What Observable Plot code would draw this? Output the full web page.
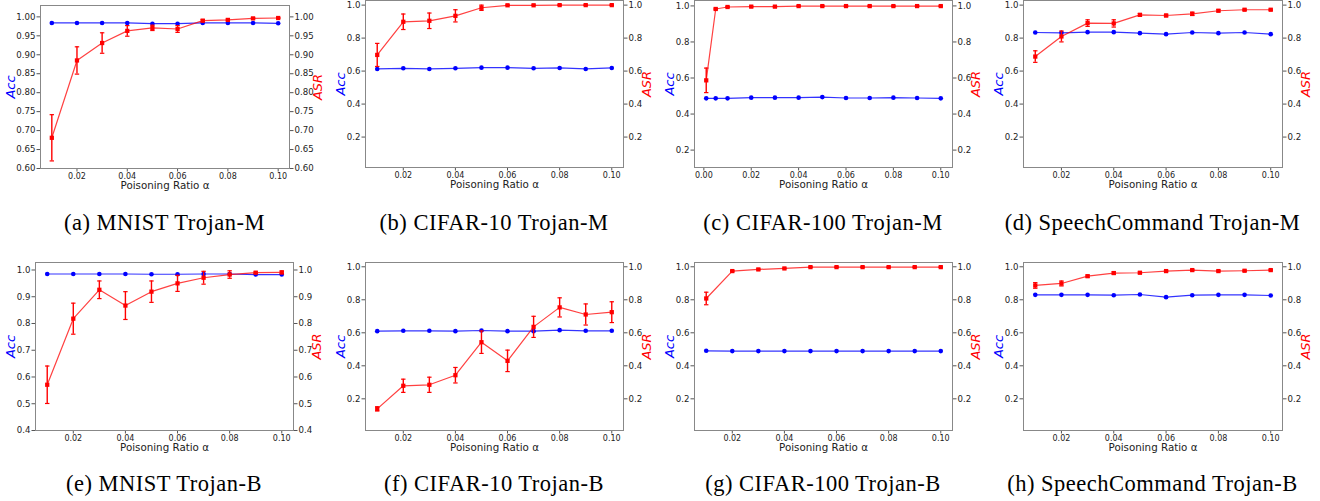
<!DOCTYPE html>
<html>
<head>
<meta charset="utf-8">
<script src="https://cdn.jsdelivr.net/npm/d3@7"></script>
<script src="https://cdn.jsdelivr.net/npm/@observablehq/plot@0.6"></script>
<style>
  html, body { margin: 0; padding: 0; background: #fff; overflow: hidden; }
  #fig { position: relative; width: 1320px; height: 501px; }
  .pan { position: absolute; }
  .pan svg { max-width: none !important; }
  .cap { position: absolute; font-family: "Liberation Serif", "Times New Roman", serif; font-size: 22.5px; letter-spacing: 0.5px; line-height: 1; text-align: center; white-space: nowrap; color: #000; }
</style>
</head>
<body>
<div id="fig"></div>
<script>
// ---------- data ----------
const ratios = [0.01, 0.02, 0.03, 0.04, 0.05, 0.06, 0.07, 0.08, 0.09, 0.10];
const ratiosC100M = [0.001, 0.005, 0.01, 0.02, 0.03, 0.04, 0.05, 0.06, 0.07, 0.08, 0.09, 0.10];

const captions = ["(a) MNIST Trojan-M", "(b) CIFAR-10 Trojan-M", "(c) CIFAR-100 Trojan-M", "(d) SpeechCommand Trojan-M",
                  "(e) MNIST Trojan-B", "(f) CIFAR-10 Trojan-B", "(g) CIFAR-100 Trojan-B", "(h) SpeechCommand Trojan-B"];

const accA = [0.984, 0.984, 0.984, 0.984, 0.982, 0.982, 0.984, 0.984, 0.984, 0.983];
const asrA = [0.681, 0.885, 0.931, 0.963, 0.971, 0.968, 0.990, 0.992, 0.996, 0.997];
const errA = [0.061, 0.036, 0.027, 0.014, 0.007, 0.009, 0.003, 0.002, 0.002, 0.001];

const accB = [0.613, 0.617, 0.613, 0.617, 0.621, 0.621, 0.617, 0.619, 0.613, 0.619];
const asrB = [0.698, 0.899, 0.905, 0.935, 0.984, 0.999, 0.999, 1.000, 1.000, 1.000];
const errB = [0.070, 0.047, 0.047, 0.037, 0.016, 0.002, 0.001, 0.001, 0.001, 0.001];

const accC = [0.487, 0.487, 0.487, 0.491, 0.491, 0.491, 0.494, 0.489, 0.489, 0.491, 0.489, 0.487];
const asrC = [0.587, 0.983, 0.994, 0.996, 0.996, 0.999, 0.999, 0.999, 0.999, 0.999, 0.999, 0.999];
const errC = [0.068, 0.004, 0.003, 0.002, 0.002, 0.001, 0.001, 0.001, 0.001, 0.001, 0.001, 0.001];

const accD = [0.834, 0.832, 0.836, 0.836, 0.830, 0.824, 0.834, 0.830, 0.834, 0.824];
const asrD = [0.688, 0.810, 0.891, 0.889, 0.941, 0.937, 0.947, 0.966, 0.972, 0.972];
const errD = [0.035, 0.033, 0.020, 0.022, 0.008, 0.007, 0.010, 0.006, 0.004, 0.004];

const accE = [0.985, 0.985, 0.985, 0.985, 0.984, 0.984, 0.985, 0.985, 0.983, 0.983];
const asrE = [0.571, 0.818, 0.926, 0.867, 0.919, 0.950, 0.971, 0.983, 0.990, 0.991];
const errE = [0.070, 0.058, 0.033, 0.052, 0.040, 0.030, 0.024, 0.014, 0.003, 0.005];

const accF = [0.610, 0.612, 0.612, 0.610, 0.614, 0.610, 0.610, 0.616, 0.612, 0.612];
const asrF = [0.139, 0.279, 0.285, 0.343, 0.543, 0.430, 0.636, 0.754, 0.711, 0.725];
const errF = [0.013, 0.040, 0.046, 0.047, 0.068, 0.065, 0.064, 0.058, 0.064, 0.063];

const accG = [0.491, 0.489, 0.489, 0.489, 0.489, 0.489, 0.489, 0.489, 0.489, 0.489];
const asrG = [0.808, 0.974, 0.984, 0.990, 0.998, 0.998, 0.998, 0.998, 0.998, 0.998];
const errG = [0.038, 0.004, 0.003, 0.002, 0.001, 0.001, 0.001, 0.001, 0.001, 0.001];

const accH = [0.830, 0.830, 0.830, 0.828, 0.832, 0.816, 0.828, 0.830, 0.830, 0.826];
const asrH = [0.887, 0.899, 0.943, 0.962, 0.964, 0.974, 0.980, 0.974, 0.976, 0.980];
const errH = [0.017, 0.015, 0.006, 0.007, 0.005, 0.004, 0.004, 0.004, 0.004, 0.004];

// tick labels
const yTicksA = [0.60, 0.65, 0.70, 0.75, 0.80, 0.85, 0.90, 0.95, 1.00];
const yTicksE = [0.4, 0.5, 0.6, 0.7, 0.8, 0.9, 1.0];
const yTicks = [0.2, 0.4, 0.6, 0.8, 1.0];
const xTicks = [0.02, 0.04, 0.06, 0.08, 0.10];
const xTicksC = [0.00, 0.02, 0.04, 0.06, 0.08, 0.10];

// ---------- layout (pixel frames) ----------
const panels = [
  {x: ratios, acc: accA, asr: asrA, err: errA, yd: [0.6, 1.03], yt: yTicksA, yf: ".2f", xd: [0.0055, 0.1045], xt: xTicks, f: [40, 289, 5, 168], ao: -30, so: 28},
  {x: ratios, acc: accB, asr: asrB, err: errB, yd: [0.0155, 1.028], yt: yTicks, yf: ".1f", xd: [0.0055, 0.1045], xt: xTicks, f: [365, 623, 0, 167], ao: -25, so: 23},
  {x: ratiosC100M, acc: accC, asr: asrC, err: errC, yd: [0.1035, 1.03], yt: yTicks, yf: ".1f", xd: [-0.00395, 0.10495], xt: xTicksC, f: [694, 952, 0, 167], ao: -25, so: 23},
  {x: ratios, acc: accD, asr: asrD, err: errD, yd: [0.0155, 1.028], yt: yTicks, yf: ".1f", xd: [0.0055, 0.1045], xt: xTicks, f: [1023, 1282, 0, 167], ao: -25, so: 23},
  {x: ratios, acc: accE, asr: asrE, err: errE, yd: [0.4, 1.028], yt: yTicksE, yf: ".1f", xd: [0.0055, 0.1045], xt: xTicks, f: [35, 293, 262, 430], ao: -25, so: 23},
  {x: ratios, acc: accF, asr: asrF, err: errF, yd: [0.008, 1.026], yt: yTicks, yf: ".1f", xd: [0.0055, 0.1045], xt: xTicks, f: [365, 623, 262, 430], ao: -25, so: 23},
  {x: ratios, acc: accG, asr: asrG, err: errG, yd: [0.008, 1.026], yt: yTicks, yf: ".1f", xd: [0.0055, 0.1045], xt: xTicks, f: [694, 952, 262, 430], ao: -25, so: 23},
  {x: ratios, acc: accH, asr: asrH, err: errH, yd: [0.008, 1.026], yt: yTicks, yf: ".1f", xd: [0.0055, 0.1045], xt: xTicks, f: [1023, 1282, 262, 430], ao: -25, so: 23}
];

const BLUE = "#0000ff", RED = "#ff0000";
const capSymbol = {
  draw(ctx, size) { const w = Math.sqrt(size / Math.PI); ctx.moveTo(-w, 0); ctx.lineTo(w, 0); }
};

const fig = document.getElementById("fig");
const mL = 55, mR = 55, mT = 10, mB = 32;

panels.forEach((p, k) => {
  const [L, R, T, B] = p.f;
  const rows = p.x.map((v, i) => ({x: v, acc: p.acc[i], asr: p.asr[i], lo: p.asr[i] - p.err[i], hi: p.asr[i] + p.err[i]}));
  const axisStyle = {tickSize: 3.5, stroke: "#555", fill: "#222", fontSize: 8.6, label: null};
  const chart = Plot.plot({
    width: R - L + mL + mR,
    height: B - T + mT + mB,
    marginLeft: mL, marginRight: mR, marginTop: mT, marginBottom: mB,
    style: {fontFamily: "DejaVu Sans", background: "transparent", overflow: "visible"},
    x: {domain: p.xd},
    y: {domain: p.yd},
    marks: [
      Plot.axisY({...axisStyle, anchor: "left", ticks: p.yt, tickFormat: d3.format(p.yf), tickPadding: 1.5}),
      Plot.axisY({...axisStyle, anchor: "right", ticks: p.yt, tickFormat: d3.format(p.yf), tickPadding: 1.5}),
      Plot.axisX({...axisStyle, anchor: "bottom", ticks: p.xt, tickFormat: d3.format(".2f"), tickPadding: 1, fontSize: 8}),
      Plot.lineY(rows, {x: "x", y: "acc", stroke: BLUE, strokeWidth: 1.2, strokeOpacity: 0.8}),
      Plot.dot(rows, {x: "x", y: "acc", fill: BLUE, r: 2.3}),
      Plot.lineY(rows, {x: "x", y: "asr", stroke: RED, strokeWidth: 1.2, strokeOpacity: 0.75}),
      Plot.ruleX(rows, {x: "x", y1: "lo", y2: "hi", stroke: RED, strokeWidth: 1.4}),
      Plot.dot(rows, {x: "x", y: "hi", symbol: capSymbol, r: 2.2, stroke: RED, fill: "none", strokeWidth: 1.2}),
      Plot.dot(rows, {x: "x", y: "lo", symbol: capSymbol, r: 2.2, stroke: RED, fill: "none", strokeWidth: 1.2}),
      Plot.dot(rows, {x: "x", y: "asr", symbol: "square", fill: RED, r: 2.4}),
      Plot.frame({stroke: "#888", strokeWidth: 1}),
      Plot.text(["Acc"], {text: d => d, frameAnchor: "left", dx: p.ao, rotate: -90, fill: BLUE, fontStyle: "italic", fontSize: 13, textAnchor: "middle", lineAnchor: "middle"}),
      Plot.text(["ASR"], {text: d => d, frameAnchor: "right", dx: p.so, rotate: -90, fill: RED, fontStyle: "italic", fontSize: 13, textAnchor: "middle", lineAnchor: "middle"}),
      Plot.text(["Poisoning Ratio α"], {text: d => d, frameAnchor: "bottom", dy: 17, fill: "#222", fontSize: 10.3, textAnchor: "middle", lineAnchor: "middle"})
    ]
  });
  const holder = document.createElement("div");
  holder.className = "pan";
  holder.style.left = (L - mL) + "px";
  holder.style.top = (T - mT) + "px";
  holder.appendChild(chart);
  fig.appendChild(holder);

  const cap = document.createElement("div");
  cap.className = "cap";
  cap.textContent = captions[k];
  const cx = (L + R) / 2;
  cap.style.left = (cx - 200) + "px";
  cap.style.width = "400px";
  cap.style.top = (k < 4 ? 212 : 473) + "px";
  fig.appendChild(cap);
});
</script>
</body>
</html>
